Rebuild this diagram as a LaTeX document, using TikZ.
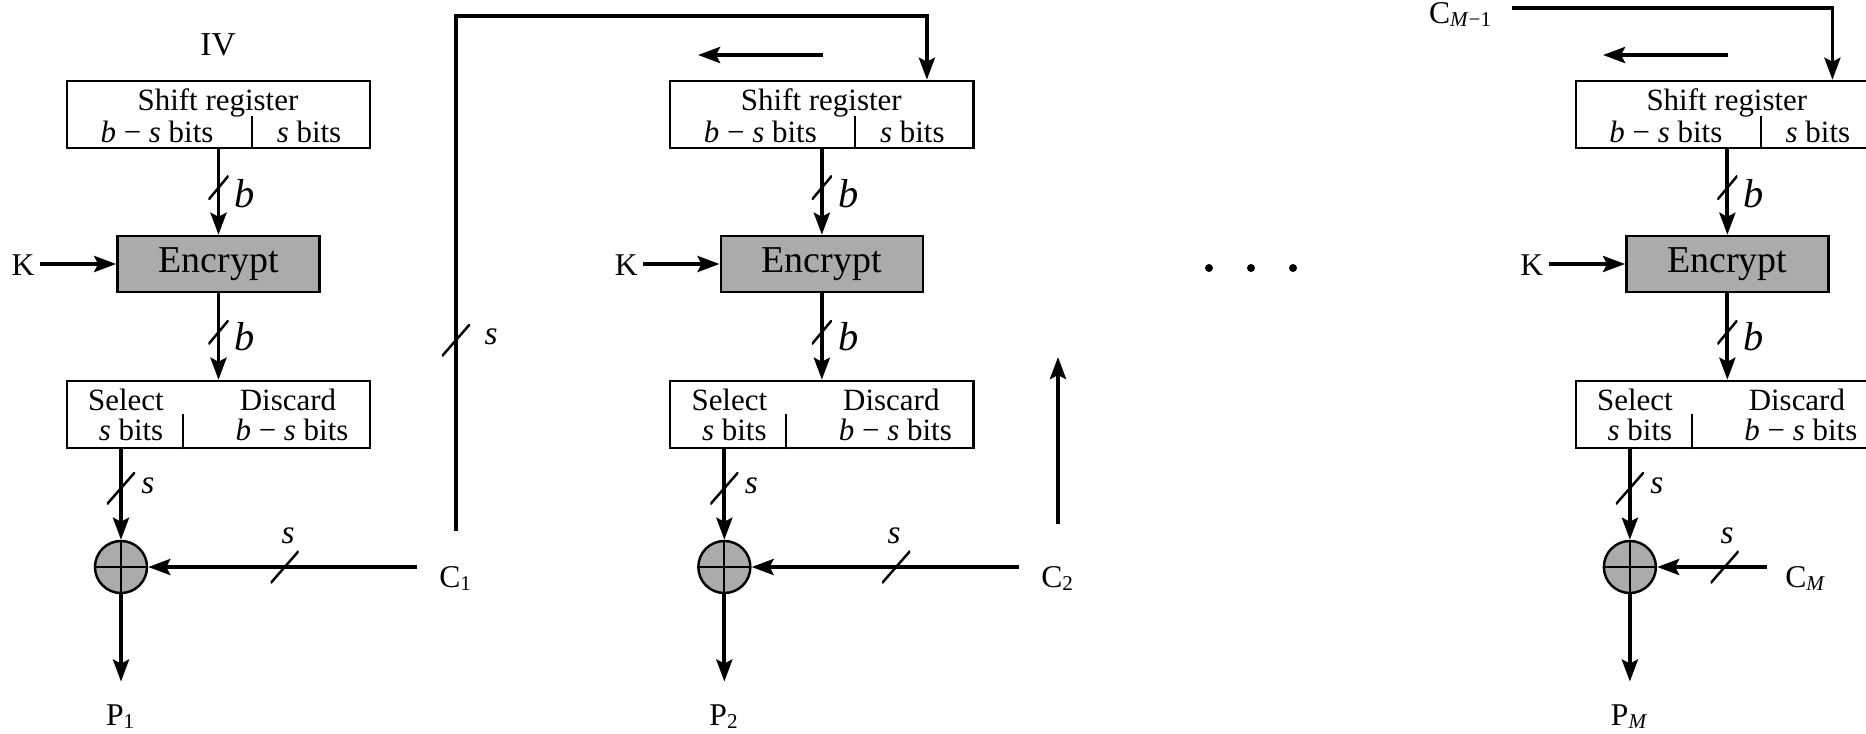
\documentclass[tikz,border=0pt]{standalone}
\usepackage{fontspec}
\setmainfont{Liberation Serif}
\usepackage{tikz}
\usetikzlibrary{arrows.meta,calc,positioning}
\definecolor{boxgray}{rgb}{0.67,0.67,0.67}
\tikzset{
  regbox/.style={
    draw,
    line width=0.7pt,
    minimum width=3.03cm,
    minimum height=0.67cm,
    inner sep=0pt
  },
  encbox/.style={
    draw,
    line width=0.7pt,
    fill=boxgray,
    minimum width=2.02cm,
    minimum height=0.56cm,
    inner sep=0pt,
    font=\fontsize{10.8}{12}\selectfont
  },
  xorgate/.style={
    circle,
    draw,
    line width=0.7pt,
    fill=boxgray,
    minimum size=0.52cm,
    inner sep=0pt,
    path picture={
      \draw[-,line width=0.6pt] (path picture bounding box.north) -- (path picture bounding box.south)
        (path picture bounding box.west) -- (path picture bounding box.east);
    }
  },
  boxtxt/.style={inner sep=0pt, anchor=base, font=\fontsize{8.8}{10}\selectfont},
  lbl/.style={inner sep=0pt, anchor=base, font=\fontsize{9}{10}\selectfont},
  slbl/.style={inner sep=0pt, anchor=base, font=\fontsize{9.5}{10}\selectfont\itshape},
  wbit/.style={inner sep=0pt, anchor=base, font=\fontsize{11.5}{12}\selectfont\itshape},
  wire/.style={
    -{Stealth[length=2.2mm,width=1.6mm,inset=0.4mm]},
    line width=1.1pt
  },
  divline/.style={line width=0.6pt},
  busmark/.style={
    minimum width=0.28cm,
    minimum height=0.32cm,
    inner sep=0pt,
    outer sep=0pt,
    path picture={
      \draw[-,shorten <=0pt,shorten >=0pt,line width=0.7pt]
        (path picture bounding box.south west) -- (path picture bounding box.north east);
    }
  },
  bussmall/.style={minimum width=0.2cm, minimum height=0.24cm},
  dot/.style={circle, fill, minimum size=0.08cm, inner sep=0pt}
}

\begin{document}
\begin{tikzpicture}[x=0.01cm,y=-0.01cm]
\useasboundingbox (0,0) rectangle (1866,733);

% the three decryption stages
\foreach \c/\dx/\sub in {1/0/1, 2/6.03/2, M/15.08/\textit{M}} {
  \begin{scope}[xshift=\dx cm]
    \node[regbox] (sr\c) at (218.5,114.5) {};
    \node[boxtxt] (srt\c) at (218,110) {Shift register};
    \node[boxtxt] (srl\c) at (157,142) {\textit{b} − \textit{s} bits};
    \node[boxtxt] (srr\c) at (309,142) {\textit{s} bits};
    \draw[divline] ([xshift=0.335cm]sr\c.south) -- ++(0,-33);
    \node[encbox] (enc\c) at (218.5,264) {Encrypt};
    \node[lbl] (k\c) at (23,275) {K};
    \node[regbox] (sel\c) at (218.5,414.5) {};
    \node[boxtxt] (selt\c) at (126,410) {Select};
    \node[boxtxt] (sels\c) at (131,440) {\textit{s} bits};
    \node[boxtxt] (dis\c) at (288,410) {Discard};
    \node[boxtxt] (disb\c) at (292,440) {\textit{b} − \textit{s} bits};
    \draw[divline] ([xshift=-0.355cm]sel\c.south) -- ++(0,-35);
    \node[xorgate] (xor\c) at (121,567) {};
    \node[lbl] (p\c) at (121,725) {P\textsubscript{\sub}};
    \node[wbit] (ba\c) at (245,207) {b};
    \node[wbit] (bb\c) at (245,350) {b};
    \node[slbl] (sa\c) at (148,493) {s};
    \draw[wire] (sr\c) -- node[busmark,bussmall,pos=.45] (bma\c) {} (enc\c);
    \draw[wire] (enc\c) -- node[busmark,bussmall,pos=.45] (bmb\c) {} (sel\c);
    \draw[wire] (xor\c |- sel\c.south) -- node[busmark,pos=.43] (bmc\c) {} (xor\c);
    \draw[wire,shorten >=0.22cm] (xor\c) -- (p\c.north);
    \draw[wire,shorten <=0.05cm] (k\c.east |- enc\c) -- (enc\c);
  \end{scope}
}

% stage 1
\node[lbl,font=\fontsize{9.5}{10}\selectfont] (iv) at (218,55) {IV};
\node[lbl] (c1) at (456,587) {C\textsubscript{1}};
\node[slbl] (sb1) at (288,543) {s};
\node[slbl] (sf1) at (491,344) {s};
\draw[wire,shorten <=0.22cm] (c1.west |- xor1) -- node[busmark,pos=.53] (bmd1) {} (xor1);

% stage 2
\node[lbl] (c2) at (1058,587) {C\textsubscript{2}};
\node[slbl] (sb2) at (894,543) {s};
\coordinate (sh2a) at (823,55);
\coordinate (sh2b) at (698,55);
\draw[wire] (sh2a) -- (sh2b);
\coordinate (up2) at (0,357);
\draw[wire,shorten <=0.41cm] (c2.north) -- (c2.north |- up2);
\draw[wire,shorten <=0.22cm] (c2.west |- xor2) -- node[busmark,pos=.5] (bmd2) {} (xor2);

% C1 feeds the second shift register
\coordinate (fbtop) at (0,16);
\coordinate (sr2in) at ([xshift=1.05cm]sr2.north);
\draw[wire,shorten <=0.34cm] (c1.north) -- node[busmark,pos=.41] (bmf) {} (c1.north |- fbtop) -| (sr2in);

% dots
\node[dot] (d1) at (1209,268) {};
\node[dot] (d2) at (1251,268) {};
\node[dot] (d3) at (1293,268) {};

% stage M
\node[lbl] (cM) at (1806,587) {C\textsubscript{\textit{M}}};
\node[slbl] (sbM) at (1727,543) {s};
\node[lbl] (cM1) at (1461,23) {C\textsubscript{\textit{M}−1}};
\coordinate (shMa) at (1728,55);
\coordinate (shMb) at (1603,55);
\draw[wire] (shMa) -- (shMb);
\coordinate (topM) at (0,8);
\coordinate (srMin) at ([xshift=1.05cm]srM.north);
\draw[wire,shorten <=0.18cm] (cM1.east |- topM) -| (srMin);
\draw[wire,shorten <=0.18cm] (cM.west |- xorM) -- node[busmark,pos=.47] (bmdM) {} (xorM);
\end{tikzpicture}
\end{document}
